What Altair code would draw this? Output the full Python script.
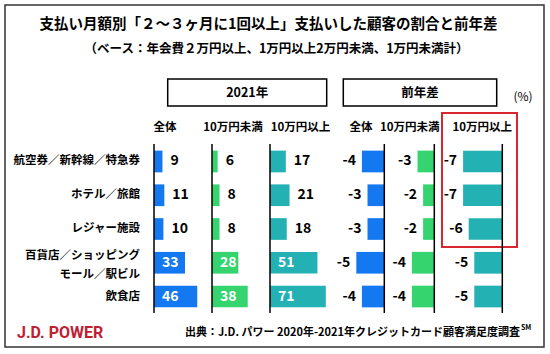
import altair as alt
import pandas as pd

# ---------------- data ----------------
categories = ["航空券／新幹線／特急券", "ホテル／旅館", "レジャー施設",
              "百貨店／ショッピングモール／駅ビル", "飲食店"]
row_labels = ["航空券／新幹線／特急券", "ホテル／旅館", "レジャー施設",
              "百貨店／ショッピング\nモール／駅ビル", "飲食店"]
col_headers = ["全体", "10万円未満", "10万円以上", "全体", "10万円未満", "10万円以上"]
group_headers = ["2021年", "前年差"]

share_total = [9, 11, 10, 33, 46]
share_under = [6, 8, 8, 28, 38]
share_over = [17, 21, 18, 51, 71]
diff_total = [-4, -3, -3, -5, -4]
diff_under = [-3, -2, -2, -4, -4]
diff_over = [-7, -7, -6, -5, -5]

title_text = "支払い月額別「２～３ヶ月に1回以上」支払いした顧客の割合と前年差"
subtitle_text = "（ベース：年会費２万円以上、1万円以上2万円未満、1万円未満計）"
unit_text = "(%)"
brand_text = "J.D. POWER"
source_text = "出典：J.D. パワー 2020年-2021年クレジットカード顧客満足度調査"
source_sup = "SM"

# ---------------- style ----------------
FONT = "Noto Sans CJK JP"
BLUE = "#1479f0"
GREEN = "#35d46f"
TEAL = "#23b1b3"
RED = "#d9262f"

one = pd.DataFrame({"a": [0]})

ysc = alt.Scale(domain=categories, range=[144.6, 313.4],
                paddingInner=0.357, paddingOuter=0.1785)
Y = alt.Y("cat:N", scale=ysc, axis=None, sort=categories)

layers = []


def deco_text(text, x, y, size, align="center", color="black", weight="bold", font=FONT):
    return alt.Chart(one).mark_text(
        text=text, font=font, fontSize=size, fontWeight=weight, color=color,
        align=align, baseline="middle"
    ).encode(x=alt.value(x), y=alt.value(y))


def deco_rect(x1, x2, y1, y2, stroke, sw):
    return alt.Chart(one).mark_rect(
        fillOpacity=0, stroke=stroke, strokeWidth=sw
    ).encode(x=alt.value(x1), x2=alt.value(x2), y=alt.value(y1), y2=alt.value(y2))


# outer frame
layers.append(deco_rect(5, 544, 5, 347, "#333333", 1.5))
# titles
layers.append(deco_text(title_text, 268.5, 25, 14.5))
layers.append(deco_text(subtitle_text, 276.5, 48.5, 12.5))
# group header boxes
layers.append(deco_rect(167.7, 326.7, 79, 106, "black", 1.5))
layers.append(deco_rect(343.3, 496.7, 79, 106, "black", 1.5))
layers.append(deco_text(group_headers[0], 247.2, 93, 12.5))
layers.append(deco_text(group_headers[1], 420, 93, 12.5))
layers.append(deco_text(unit_text, 523, 97, 12, weight="normal"))
# highlight box
layers.append(deco_rect(442, 517, 113, 247, RED, 2))

# column headers
col_x = [165, 233, 300.5, 361, 409.7, 482.3]
for name, cx in zip(col_headers, col_x):
    layers.append(deco_text(name, cx, 128.3, 11.5))

# row labels (single-line and two-line handled separately)
rows_df = pd.DataFrame({"cat": categories, "label": row_labels})
row_style = dict(font=FONT, fontSize=11.5, fontWeight="bold", align="right",
                 baseline="middle", lineBreak="\n", lineHeight=19)
layers.append(
    alt.Chart(rows_df).transform_filter("indexof(datum.label, '\\n') < 0")
    .mark_text(**row_style).encode(x=alt.value(140), y=Y, text="label:N")
)
layers.append(
    alt.Chart(rows_df).transform_filter("indexof(datum.label, '\\n') >= 0")
    .mark_text(dy=-7, **row_style).encode(x=alt.value(140), y=Y, text="label:N")
)

# panels: values, color, scale, kind
panels = [
    (share_total, BLUE, alt.Scale(domain=[0, 100], range=[154, 248]), "share"),
    (share_under, GREEN, alt.Scale(domain=[0, 100], range=[212, 306]), "share"),
    (share_over, TEAL, alt.Scale(domain=[0, 60], range=[270, 325.8], clamp=True), "share"),
    (diff_total, BLUE, alt.Scale(domain=[-10, 0], range=[328.3, 384.3]), "diff"),
    (diff_under, GREEN, alt.Scale(domain=[-10, 0], range=[378.3, 434.3]), "diff"),
    (diff_over, TEAL, alt.Scale(domain=[-10, 0], range=[446.3, 502.3]), "diff"),
]

num_style = dict(font=FONT, fontSize=14, fontWeight="bold", baseline="middle")
TXT = alt.Text("lbl:N")

for values, color, sc, kind in panels:
    d = pd.DataFrame({"cat": categories, "v": values})
    base = alt.Chart(d).transform_calculate(lbl="'' + datum.v")
    X = alt.X("v:Q", scale=sc, axis=None)
    layers.append(alt.Chart(d).mark_bar(color=color).encode(x=X, y=Y))
    if kind == "share":
        layers.append(
            base.transform_filter("datum.v < 25").mark_text(
                align="left", dx=8, color="black", **num_style
            ).encode(x=X, y=Y, text=TXT)
        )
        layers.append(
            base.transform_filter("datum.v >= 25").transform_calculate(z="0").mark_text(
                align="left", dx=8, color="white", **num_style
            ).encode(x=alt.X("z:Q", scale=sc, axis=None), y=Y, text=TXT)
        )
    else:
        layers.append(
            base.mark_text(align="right", dx=-6, color="black", **num_style
                           ).encode(x=X, y=Y, text=TXT)
        )
    layers.append(
        alt.Chart(pd.DataFrame({"z": [0]})).mark_rule(color="black", strokeWidth=1.5).encode(
            x=alt.X("z:Q", scale=sc, axis=None), y=alt.value(144), y2=alt.value(313)
        )
    )

# footer
layers.append(deco_text(brand_text, 17, 333, 16, align="left", color="#bf2033", font="Roboto"))
layers.append(deco_text(source_text, 520, 333, 11, align="right"))
layers.append(deco_text(source_sup, 521, 328, 7, align="left"))

chart = alt.layer(*layers).resolve_scale(x="independent").properties(
    width=550, height=354, autosize=alt.AutoSizeParams(type="none"), padding=0
).configure_view(stroke=None)

chart.save("out.html", embed_options={"renderer": "svg", "actions": False})
